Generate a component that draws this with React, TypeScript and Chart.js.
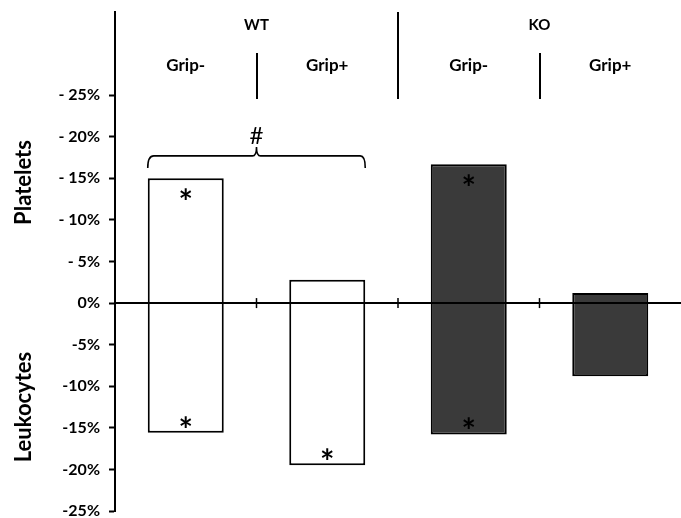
import React, { useEffect, useRef } from "react";
import { Chart, registerables } from "chart.js";

Chart.register(...registerables);

const categories = ["Grip-", "Grip+", "Grip-", "Grip+"];
const groups = ["WT", "KO"];
const platelets = [15.0, 2.8, 16.7, 1.2];
const leukocytes = [-15.6, -19.5, -15.8, -8.8];
const plateletSig = [true, false, true, false];
const leukocyteSig = [true, true, true, false];
const yTickValues = [-25, -20, -15, -10, -5, 0, 5, 10, 15, 20, 25];
const barColors = ["#ffffff", "#ffffff", "#3a3a3a", "#3a3a3a"];
const bracketLevel = 17.7;
const upperTitle = "Platelets";
const lowerTitle = "Leukocytes";

const FONT = "Lato, 'Open Sans', 'Liberation Sans', sans-serif";

const annotPlugin = {
  id: "annot",
  afterDatasetsDraw(chart: any) {
    const ctx = chart.ctx;
    const x = chart.scales.x;
    const y = chart.scales.y;
    const area = chart.chartArea;
    const cx = (i: number) => x.getPixelForValue(i);
    const bnd = (i: number) => (cx(i) + cx(i + 1)) / 2;
    const y0 = y.getPixelForValue(0);
    ctx.save();
    ctx.strokeStyle = "#000";
    ctx.fillStyle = "#000";
    ctx.lineCap = "butt";

    // zero line over bars
    ctx.lineWidth = 2;
    ctx.beginPath();
    ctx.moveTo(area.left, y0);
    ctx.lineTo(area.right + 2, y0);
    ctx.stroke();

    // boundary ticks on zero line
    ctx.lineWidth = 1.5;
    for (let i = 0; i < categories.length - 1; i++) {
      const bx = bnd(i);
      ctx.beginPath();
      ctx.moveTo(bx, y0 - 5);
      ctx.lineTo(bx, y0 + 5);
      ctx.stroke();
    }

    // header dividers
    const top = area.top;
    ctx.lineWidth = 2;
    for (let i = 0; i < categories.length - 1; i++) {
      const bx = Math.round(bnd(i));
      const isGroup = i === 1;
      ctx.beginPath();
      ctx.moveTo(bx, isGroup ? top : top + 41);
      ctx.lineTo(bx, top + 87);
      ctx.stroke();
    }

    // header text
    ctx.textAlign = "center";
    ctx.textBaseline = "middle";
    ctx.font = `bold 15px ${FONT}`;
    groups.forEach((g, gi) => {
      ctx.fillText(g, bnd(gi * 2), top + 13);
    });
    ctx.font = `bold 17px ${FONT}`;
    categories.forEach((c, i) => {
      ctx.fillText(c, cx(i), top + 54);
    });

    // bracket
    const meta = chart.getDatasetMeta(0);
    const b0 = meta.data[0];
    const b1 = meta.data[1];
    const lx = b0.x - b0.width / 2;
    const rx = b1.x + b1.width / 2;
    const by = y.getPixelForValue(bracketLevel);
    const mx = bnd(0);
    ctx.lineWidth = 1.6;
    ctx.beginPath();
    ctx.moveTo(lx, by + 12);
    ctx.quadraticCurveTo(lx, by, lx + 6, by);
    ctx.lineTo(mx - 4, by);
    ctx.quadraticCurveTo(mx, by, mx, by - 9);
    ctx.quadraticCurveTo(mx, by, mx + 4, by);
    ctx.lineTo(rx - 5, by);
    ctx.quadraticCurveTo(rx, by, rx, by + 12);
    ctx.stroke();
    ctx.font = `24px ${FONT}`;
    ctx.fillText("#", mx, by - 20);

    // asterisks
    ctx.font = `bold 34px ${FONT}`;
    const m0 = chart.getDatasetMeta(0);
    const m1 = chart.getDatasetMeta(1);
    plateletSig.forEach((s, i) => {
      if (!s) return;
      const el = m0.data[i];
      ctx.fillText("*", el.x, el.y + 25);
    });
    leukocyteSig.forEach((s, i) => {
      if (!s) return;
      const el = m1.data[i];
      ctx.fillText("*", el.x, el.y - 2);
    });

    // rotated axis titles
    ctx.font = `bold 22px ${FONT}`;
    const drawRot = (t: string, px: number, py: number) => {
      ctx.save();
      ctx.translate(px, py);
      ctx.rotate(-Math.PI / 2);
      ctx.textAlign = "center";
      ctx.textBaseline = "middle";
      ctx.fillText(t, 0, 0);
      ctx.restore();
    };
    drawRot(upperTitle, 24, y.getPixelForValue(14.5));
    drawRot(lowerTitle, 24, y.getPixelForValue(-12.5));
    ctx.restore();
  },
};

export default function App() {
  const ref = useRef<HTMLCanvasElement | null>(null);
  useEffect(() => {
    document.body.style.margin = "0";
    const canvas = ref.current;
    if (!canvas) return;
    const chart = new Chart(canvas, {
      type: "bar",
      data: {
        labels: categories,
        datasets: [
          {
            label: upperTitle,
            data: platelets,
            backgroundColor: barColors,
            borderColor: "#000",
            borderWidth: 2,
            borderSkipped: "start",
            barPercentage: 0.537,
            categoryPercentage: 1,
          },
          {
            label: lowerTitle,
            data: leukocytes,
            backgroundColor: barColors,
            borderColor: "#000",
            borderWidth: 2,
            borderSkipped: "start",
            barPercentage: 0.537,
            categoryPercentage: 1,
          },
        ],
      },
      options: {
        animation: false,
        responsive: false,
        maintainAspectRatio: false,
        layout: { padding: { top: 12, bottom: 7, left: 0, right: -2 } },
        plugins: { legend: { display: false }, tooltip: { enabled: false } },
        scales: {
          x: {
            stacked: true,
            display: false,
          },
          y: {
            stacked: true,
            min: -25,
            max: 35,
            afterBuildTicks: (s: any) => {
              s.ticks = yTickValues.map((v) => ({ value: v }));
            },
            afterFit: (s: any) => {
              s.width = 115;
              s.paddingTop = 0;
              s.paddingBottom = 0;
            },
            border: { display: true, color: "#000", width: 2 },
            grid: {
              drawOnChartArea: false,
              drawTicks: true,
              tickLength: 6,
              tickColor: "#000",
              tickWidth: 2,
            },
            ticks: {
              padding: 9,
              color: "#000",
              font: { family: FONT, size: 16, weight: "bold" },
              callback: (v: any) => {
                const n = Number(v);
                if (n > 0) return "- " + n + "%";
                return n + "%";
              },
            },
          },
        },
      },
      plugins: [annotPlugin],
    } as any);
    return () => chart.destroy();
  }, []);
  return (
    <div style={{ width: 681, height: 518 }}>
      <canvas ref={ref} width={681} height={518} style={{ display: "block" }} />
    </div>
  );
}
